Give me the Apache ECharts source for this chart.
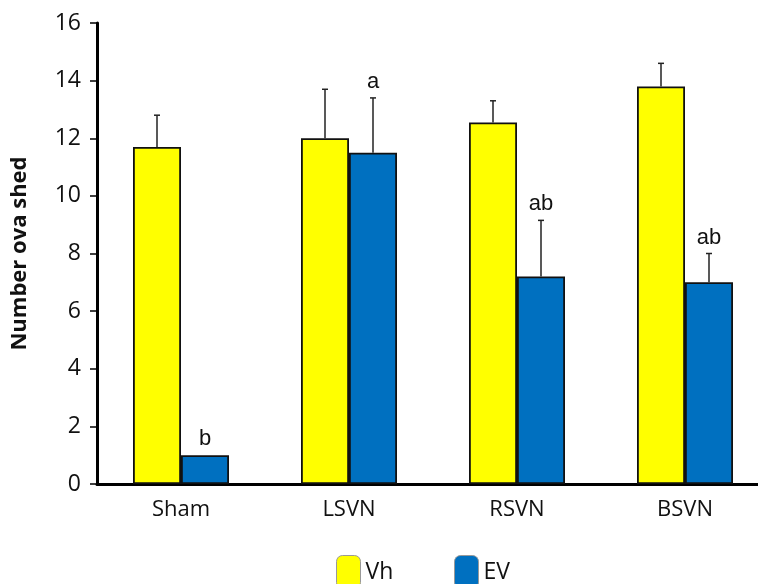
<!DOCTYPE html>
<html>
<head>
<meta charset="utf-8">
<script src="https://cdn.jsdelivr.net/npm/echarts@6/dist/echarts.min.js"></script>
<style>html,body{margin:0;padding:0;background:#fff;overflow:hidden}#c{width:769px;height:584px}</style>
</head>
<body>
<div id="c"></div>
<script>
var categories = ['Sham', 'LSVN', 'RSVN', 'BSVN'];
var vhValues = [11.7, 12.0, 12.55, 13.8];
var vhErrors = [1.1, 1.7, 0.75, 0.8];
var evValues = [1.0, 11.5, 7.2, 7.0];
var evErrors = [0, 1.9, 1.95, 1.0];
var evLetters = ['b', 'a', 'ab', 'ab'];
var yTicks = [0, 2, 4, 6, 8, 10, 12, 14, 16];

var chart = echarts.init(document.getElementById('c'));

function errSeries(name, values, errors, offset, letters) {
  return {
    type: 'custom',
    name: name + ' err',
    z: 10,
    silent: true,
    data: values.map(function (v, i) { return [i, v, errors[i]]; }),
    renderItem: function (params, api) {
      var i = api.value(0), v = api.value(1), e = api.value(2);
      var base = api.coord([i, v]);
      var top = api.coord([i, v + e]);
      var x = base[0] + offset;
      var children = [];
      if (e > 0) {
        children.push({ type: 'line', shape: { x1: x, y1: base[1], x2: x, y2: top[1] }, style: { stroke: '#222', lineWidth: 1.5 } });
        children.push({ type: 'line', shape: { x1: x - 3, y1: top[1], x2: x + 3, y2: top[1] }, style: { stroke: '#222', lineWidth: 1.5 } });
      }
      if (letters) {
        children.push({ type: 'text', style: { text: letters[i], x: x, y: top[1] - 16, align: 'center', verticalAlign: 'middle', font: '22px "Liberation Sans", Arial', fill: '#111' } });
      }
      return { type: 'group', children: children };
    }
  };
}

var option = {
  animation: false,
  grid: { left: 97, top: 23, bottom: 100, right: 0 },
  legend: [
    { data: [{ name: 'Vh', itemStyle: { borderColor: '#999', borderWidth: 1 } }], left: 331, top: 550, itemWidth: 24, itemHeight: 33, itemGap: 0,
      textStyle: { fontFamily: 'Open Sans', fontSize: 23, color: '#111' } },
    { data: [{ name: 'EV', itemStyle: { borderColor: '#999', borderWidth: 1 } }], left: 449, top: 550, itemWidth: 24, itemHeight: 33, itemGap: 0,
      textStyle: { fontFamily: 'Open Sans', fontSize: 23, color: '#111' } }
  ],
  xAxis: {
    type: 'category',
    data: categories,
    axisLine: { lineStyle: { color: '#000', width: 3 } },
    axisTick: { show: false },
    axisLabel: { fontFamily: 'Open Sans', fontSize: 22, color: '#111', margin: 15 }
  },
  yAxis: {
    type: 'value',
    min: 0, max: 16, interval: 2,
    name: 'Number ova shed',
    nameLocation: 'middle',
    nameGap: 66,
    nameTextStyle: { fontFamily: 'Open Sans', fontSize: 22, fontWeight: 'bold', color: '#111' },
    axisLine: { show: true, lineStyle: { color: '#000', width: 3 } },
    axisTick: { show: true, length: 7, lineStyle: { color: '#000', width: 1.5 } },
    splitLine: { show: false },
    axisLabel: { fontFamily: 'Open Sans', fontSize: 23, color: '#111', margin: 16,
      formatter: function (v) { return yTicks.indexOf(v) >= 0 ? String(v) : ''; } }
  },
  series: [
    { type: 'bar', name: 'Vh', data: vhValues, barWidth: 48, barGap: '0%',
      itemStyle: { color: '#FFFF00', borderColor: '#111', borderWidth: 1.8 } },
    { type: 'bar', name: 'EV', data: evValues, barWidth: 48, barGap: '0%',
      itemStyle: { color: '#0070C0', borderColor: '#111', borderWidth: 1.8 } },
    errSeries('Vh', vhValues, vhErrors, -24, null),
    errSeries('EV', evValues, evErrors, 24, evLetters)
  ]
};
chart.setOption(option);
</script>
</body>
</html>
